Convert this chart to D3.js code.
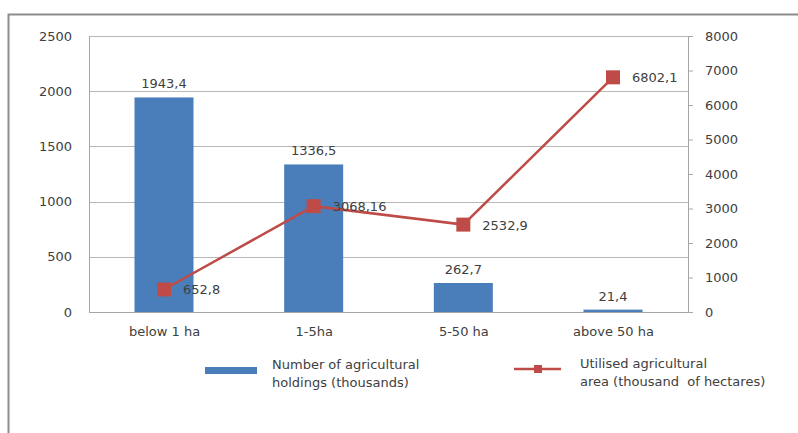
<html>
<head>
<script src="https://d3js.org/d3.v7.min.js"></script>
<style>
  body { margin: 0; background: #fff; }
  svg { font-family: "DejaVu Sans", sans-serif; }
  .lbl { font-size: 13px; fill: #404040; white-space: pre; }
  .grid line { stroke: #b8b8b8; stroke-width: 1; }
</style>
</head>
<body>
<div id="chart"></div>
<script>
// data
var categories = ["below 1 ha", "1-5ha", "5-50 ha", "above 50 ha"];
var holdings = [1943.4, 1336.5, 262.7, 21.4];
var holdingLabels = ["1943,4", "1336,5", "262,7", "21,4"];
var area = [652.8, 3068.16, 2532.9, 6802.1];
var areaLabels = ["652,8", "3068,16", "2532,9", "6802,1"];
var leftTicks = [0, 500, 1000, 1500, 2000, 2500];
var rightTicks = [0, 1000, 2000, 3000, 4000, 5000, 6000, 7000, 8000];
var legendBar = ["Number of agricultural", "holdings (thousands)"];
var legendLine = ["Utilised agricultural", "area (thousand  of hectares)"];

var W = 798, H = 433;
var mLeft = 89, mRight = 688, mTop = 36, mBottom = 312;
var blue = "#4a7ebb", red = "#be4b48";

var svg = d3.select("#chart").append("svg")
    .attr("width", W).attr("height", H);

// outer frame (top + left only visible)
svg.append("path")
    .attr("d", "M8.5," + H + "V14.5H" + W)
    .attr("fill", "none").attr("stroke", "#8c8c8c").attr("stroke-width", 2);

var xc = d3.scalePoint().domain(categories).range([mLeft + 75, mRight - 75]);
var yL = d3.scaleLinear().domain([0, 2500]).range([mBottom, mTop]);
var yR = d3.scaleLinear().domain([0, 8000]).range([mBottom, mTop]);

// gridlines
svg.append("g").attr("class", "grid")
    .selectAll("line").data(leftTicks.slice(1)).enter().append("line")
    .attr("x1", mLeft).attr("x2", mRight)
    .attr("y1", d => Math.round(yL(d)) + 0.5).attr("y2", d => Math.round(yL(d)) + 0.5);

// left axis
var gl = svg.append("g").attr("transform", "translate(" + mLeft + ",0)")
    .call(d3.axisLeft(yL).tickValues(leftTicks).tickFormat(d3.format("d")).tickSize(0).tickPadding(17));
gl.select(".domain").attr("stroke", "#a6a6a6");

// right axis
var gr = svg.append("g").attr("transform", "translate(" + mRight + ",0)")
    .call(d3.axisRight(yR).tickValues(rightTicks).tickFormat(d3.format("d")).tickSize(5).tickSizeOuter(0).tickPadding(12));
gr.select(".domain").attr("stroke", "#a6a6a6");
gr.selectAll(".tick line").attr("stroke", "#a6a6a6");

// x axis
var gx = svg.append("g").attr("transform", "translate(0," + mBottom + ")")
    .call(d3.axisBottom(xc).tickSize(0).tickPadding(15));
gx.select(".domain").remove();
svg.append("line").attr("x1", mLeft).attr("x2", mRight)
    .attr("y1", mBottom + 0.5).attr("y2", mBottom + 0.5).attr("stroke", "#a6a6a6");

svg.selectAll(".tick text")
    .style("font-family", "DejaVu Sans, sans-serif")
    .style("font-size", "13px").style("fill", "#404040");

// bars
var bw = 59;
svg.append("g").selectAll("rect").data(holdings).enter().append("rect")
    .attr("x", (d, i) => xc(categories[i]) - bw / 2)
    .attr("width", bw)
    .attr("y", d => yL(d))
    .attr("height", d => mBottom - yL(d))
    .attr("fill", blue);

svg.append("g").selectAll("text").data(holdings).enter().append("text")
    .attr("class", "lbl")
    .attr("x", (d, i) => xc(categories[i]))
    .attr("y", d => yL(d) - 9)
    .attr("text-anchor", "middle")
    .text((d, i) => holdingLabels[i]);

// line
var line = d3.line()
    .x((d, i) => xc(categories[i]))
    .y(d => yR(d));
svg.append("path").datum(area)
    .attr("d", line)
    .attr("fill", "none").attr("stroke", red).attr("stroke-width", 2.5);

svg.append("g").selectAll("rect").data(area).enter().append("rect")
    .attr("x", (d, i) => xc(categories[i]) - 7)
    .attr("y", d => yR(d) - 7)
    .attr("width", 14).attr("height", 14)
    .attr("fill", red);

svg.append("g").selectAll("text").data(area).enter().append("text")
    .attr("class", "lbl")
    .attr("x", (d, i) => xc(categories[i]) + 19)
    .attr("y", d => yR(d) + 5)
    .text((d, i) => areaLabels[i]);

// legend
svg.append("rect").attr("x", 205).attr("y", 367).attr("width", 52).attr("height", 7).attr("fill", blue);
svg.append("g").selectAll("text").data(legendBar).enter().append("text")
    .attr("class", "lbl").attr("x", 272).attr("y", (d, i) => 369 + i * 18).text(d => d);

svg.append("line").attr("x1", 514).attr("x2", 561).attr("y1", 369).attr("y2", 369)
    .attr("stroke", red).attr("stroke-width", 2.5);
svg.append("rect").attr("x", 534).attr("y", 365).attr("width", 8).attr("height", 8).attr("fill", red);
svg.append("g").selectAll("text").data(legendLine).enter().append("text")
    .attr("class", "lbl").attr("x", 580).attr("y", (d, i) => 368 + i * 18).text(d => d);
</script>
</body>
</html>
